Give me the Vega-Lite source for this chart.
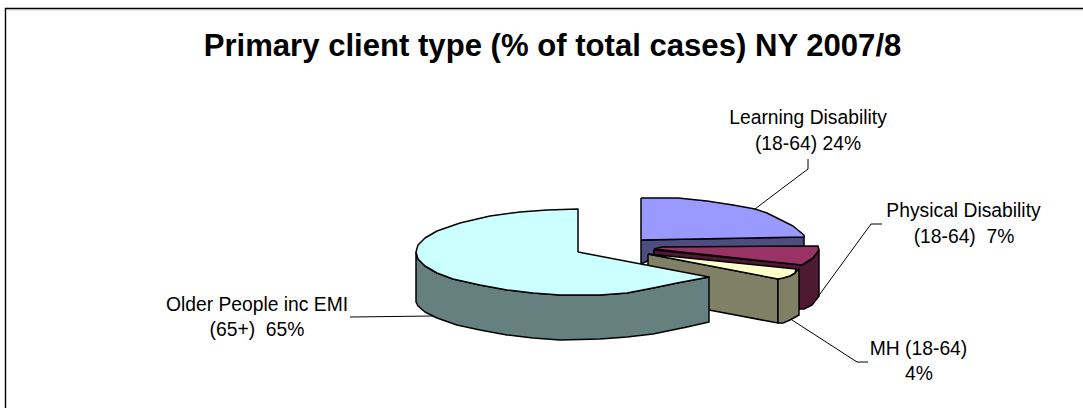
{"$schema":"https://vega.github.io/schema/vega-lite/v6.json","width":1083,"height":408,"padding":0,"autosize":"none","background":"white","view":{"stroke":null},
"datasets":{
"shapes":[
{"p":"Learning side","i":1,"x":641,"y":240},{"p":"Learning side","i":2,"x":804,"y":237},{"p":"Learning side","i":3,"x":804,"y":248},{"p":"Learning side","i":4,"x":654,"y":250},{"p":"Learning side","i":5,"x":654,"y":258},{"p":"Learning side","i":6,"x":641,"y":264},{"p":"Learning side","i":7,"x":641,"y":240},
{"p":"Learning top","i":1,"x":641,"y":198},{"p":"Learning top","i":2,"x":678,"y":198},{"p":"Learning top","i":3,"x":707,"y":201},{"p":"Learning top","i":4,"x":733,"y":205},{"p":"Learning top","i":5,"x":755,"y":209},{"p":"Learning top","i":6,"x":767,"y":213},{"p":"Learning top","i":7,"x":777,"y":218},{"p":"Learning top","i":8,"x":793,"y":226},{"p":"Learning top","i":9,"x":804,"y":235},{"p":"Learning top","i":10,"x":804,"y":237},{"p":"Learning top","i":11,"x":641,"y":240},{"p":"Learning top","i":12,"x":641,"y":198},
{"p":"Physical side","i":1,"x":654,"y":250},{"p":"Physical side","i":2,"x":802,"y":265},{"p":"Physical side","i":3,"x":813,"y":258},{"p":"Physical side","i":4,"x":819,"y":250},{"p":"Physical side","i":5,"x":819,"y":296},{"p":"Physical side","i":6,"x":812,"y":305},{"p":"Physical side","i":7,"x":804,"y":309},{"p":"Physical side","i":8,"x":798,"y":309},{"p":"Physical side","i":9,"x":798,"y":280},{"p":"Physical side","i":10,"x":654,"y":258},{"p":"Physical side","i":11,"x":654,"y":250},
{"p":"Physical top","i":1,"x":654,"y":249},{"p":"Physical top","i":2,"x":662,"y":247},{"p":"Physical top","i":3,"x":818,"y":246},{"p":"Physical top","i":4,"x":819,"y":250},{"p":"Physical top","i":5,"x":813,"y":258},{"p":"Physical top","i":6,"x":802,"y":265},{"p":"Physical top","i":7,"x":654,"y":249},
{"p":"MH front","i":1,"x":648,"y":254},{"p":"MH front","i":2,"x":778,"y":279},{"p":"MH front","i":3,"x":778,"y":323},{"p":"MH front","i":4,"x":709,"y":310},{"p":"MH front","i":5,"x":648,"y":298},{"p":"MH front","i":6,"x":648,"y":254},
{"p":"MH side","i":1,"x":778,"y":279},{"p":"MH side","i":2,"x":783,"y":278},{"p":"MH side","i":3,"x":790,"y":276},{"p":"MH side","i":4,"x":795,"y":273},{"p":"MH side","i":5,"x":799,"y":269},{"p":"MH side","i":6,"x":799,"y":315},{"p":"MH side","i":7,"x":790,"y":320},{"p":"MH side","i":8,"x":783,"y":323},{"p":"MH side","i":9,"x":778,"y":323},{"p":"MH side","i":10,"x":778,"y":279},
{"p":"MH top","i":1,"x":648,"y":254},{"p":"MH top","i":2,"x":796,"y":269},{"p":"MH top","i":3,"x":795,"y":273},{"p":"MH top","i":4,"x":790,"y":276},{"p":"MH top","i":5,"x":783,"y":278},{"p":"MH top","i":6,"x":778,"y":279},{"p":"MH top","i":7,"x":648,"y":254},
{"p":"Older side","i":1,"x":416,"y":252},{"p":"Older side","i":2,"x":418,"y":259},{"p":"Older side","i":3,"x":425,"y":266},{"p":"Older side","i":4,"x":437,"y":273},{"p":"Older side","i":5,"x":453,"y":279},{"p":"Older side","i":6,"x":480,"y":285},{"p":"Older side","i":7,"x":507,"y":290},{"p":"Older side","i":8,"x":533,"y":293},{"p":"Older side","i":9,"x":560,"y":295},{"p":"Older side","i":10,"x":600,"y":295},{"p":"Older side","i":11,"x":627,"y":293},{"p":"Older side","i":12,"x":653,"y":288},{"p":"Older side","i":13,"x":677,"y":283},{"p":"Older side","i":14,"x":709,"y":277},{"p":"Older side","i":15,"x":709,"y":322},{"p":"Older side","i":16,"x":687,"y":327},{"p":"Older side","i":17,"x":653,"y":334},{"p":"Older side","i":18,"x":627,"y":337},{"p":"Older side","i":19,"x":600,"y":339},{"p":"Older side","i":20,"x":560,"y":340},{"p":"Older side","i":21,"x":533,"y":338},{"p":"Older side","i":22,"x":507,"y":335},{"p":"Older side","i":23,"x":480,"y":330},{"p":"Older side","i":24,"x":457,"y":325},{"p":"Older side","i":25,"x":437,"y":318},{"p":"Older side","i":26,"x":425,"y":312},{"p":"Older side","i":27,"x":418,"y":306},{"p":"Older side","i":28,"x":416,"y":302},{"p":"Older side","i":29,"x":416,"y":252},
{"p":"Older top","i":1,"x":578,"y":252},{"p":"Older top","i":2,"x":578,"y":209},{"p":"Older top","i":3,"x":547,"y":210},{"p":"Older top","i":4,"x":520,"y":212},{"p":"Older top","i":5,"x":490,"y":216},{"p":"Older top","i":6,"x":460,"y":223},{"p":"Older top","i":7,"x":437,"y":231},{"p":"Older top","i":8,"x":425,"y":238},{"p":"Older top","i":9,"x":418,"y":245},{"p":"Older top","i":10,"x":416,"y":252},{"p":"Older top","i":11,"x":418,"y":259},{"p":"Older top","i":12,"x":425,"y":266},{"p":"Older top","i":13,"x":437,"y":273},{"p":"Older top","i":14,"x":453,"y":279},{"p":"Older top","i":15,"x":480,"y":285},{"p":"Older top","i":16,"x":507,"y":290},{"p":"Older top","i":17,"x":533,"y":293},{"p":"Older top","i":18,"x":560,"y":295},{"p":"Older top","i":19,"x":600,"y":295},{"p":"Older top","i":20,"x":627,"y":293},{"p":"Older top","i":21,"x":653,"y":288},{"p":"Older top","i":22,"x":677,"y":283},{"p":"Older top","i":23,"x":709,"y":277},{"p":"Older top","i":24,"x":578,"y":252}
],
"frame":[
{"s":"Frame","i":1,"x":5.5,"y":408},{"s":"Frame","i":2,"x":5.5,"y":8.5},{"s":"Frame","i":3,"x":1083,"y":8.5}
],
"shade":[
{"s":"Shade","i":1,"x":7,"y":10},{"s":"Shade","i":2,"x":1083,"y":10}
],
"leaders":[
{"s":"Learning","i":1,"x":755,"y":209},{"s":"Learning","i":2,"x":780,"y":190},{"s":"Learning","i":3,"x":808,"y":169},{"s":"Learning","i":4,"x":808,"y":159},
{"s":"Physical","i":1,"x":817,"y":298},{"s":"Physical","i":2,"x":871,"y":224},{"s":"Physical","i":3,"x":882,"y":224},
{"s":"MH","i":1,"x":792,"y":320},{"s":"MH","i":2,"x":857,"y":362},{"s":"MH","i":3,"x":868,"y":362},
{"s":"Older","i":1,"x":433,"y":316},{"s":"Older","i":2,"x":350,"y":317}
],
"labels":[
{"t":"Learning Disability","x":808,"y":124},{"t":"(18-64) 24%","x":808,"y":150},
{"t":"Physical Disability","x":963.5,"y":217},{"t":"(18-64)\u00a0 7%","x":964,"y":243},
{"t":"MH (18-64)","x":918.5,"y":355},{"t":"4%","x":919,"y":380},
{"t":"Older People inc EMI","x":257,"y":311},{"t":"(65+)\u00a0 65%","x":257,"y":336}
],
"heading":[{"t":"Primary client type (% of total cases) NY 2007/8","x":552.5,"y":56}]
},
"layer":[
{"data":{"name":"shade"},"mark":{"type":"line","stroke":"#DDDDDD","strokeWidth":1,"clip":false},
"encoding":{"x":{"field":"x","type":"quantitative","scale":{"domain":[0,1083],"nice":false,"zero":false},"axis":null},"y":{"field":"y","type":"quantitative","scale":{"domain":[0,408],"reverse":true,"nice":false,"zero":false},"axis":null},"order":{"field":"i","type":"quantitative"}}},
{"data":{"name":"frame"},"mark":{"type":"line","stroke":"black","strokeWidth":1.4},
"encoding":{"x":{"field":"x","type":"quantitative"},"y":{"field":"y","type":"quantitative"},"order":{"field":"i","type":"quantitative"}}},
{"data":{"name":"leaders"},"mark":{"type":"line","stroke":"black","strokeWidth":1},
"encoding":{"x":{"field":"x","type":"quantitative"},"y":{"field":"y","type":"quantitative"},"detail":{"field":"s"},"order":{"field":"i","type":"quantitative"}}},
{"data":{"name":"shapes"},"mark":{"type":"line","stroke":"black","strokeWidth":1.5,"strokeJoin":"round"},
"encoding":{"x":{"field":"x","type":"quantitative"},"y":{"field":"y","type":"quantitative"},"detail":{"field":"p"},"order":{"field":"i","type":"quantitative"},
"fill":{"field":"p","type":"nominal","legend":null,"scale":{"domain":["Learning top","Learning side","Physical top","Physical side","MH top","MH front","MH side","Older top","Older side"],"range":["#9999FF","#4D4D80","#993366","#4D1933","#FFFFCC","#808066","#808066","#CCFFFF","#668080"]}}}},
{"data":{"name":"labels"},"mark":{"type":"text","font":"Liberation Sans","fontSize":19.3,"align":"center","baseline":"alphabetic","color":"black"},
"encoding":{"x":{"field":"x","type":"quantitative"},"y":{"field":"y","type":"quantitative"},"text":{"field":"t"}}},
{"data":{"name":"heading"},"mark":{"type":"text","font":"Liberation Sans","fontSize":31.1,"fontWeight":"bold","align":"center","baseline":"alphabetic","color":"black"},
"encoding":{"x":{"field":"x","type":"quantitative"},"y":{"field":"y","type":"quantitative"},"text":{"field":"t"}}}
]}
